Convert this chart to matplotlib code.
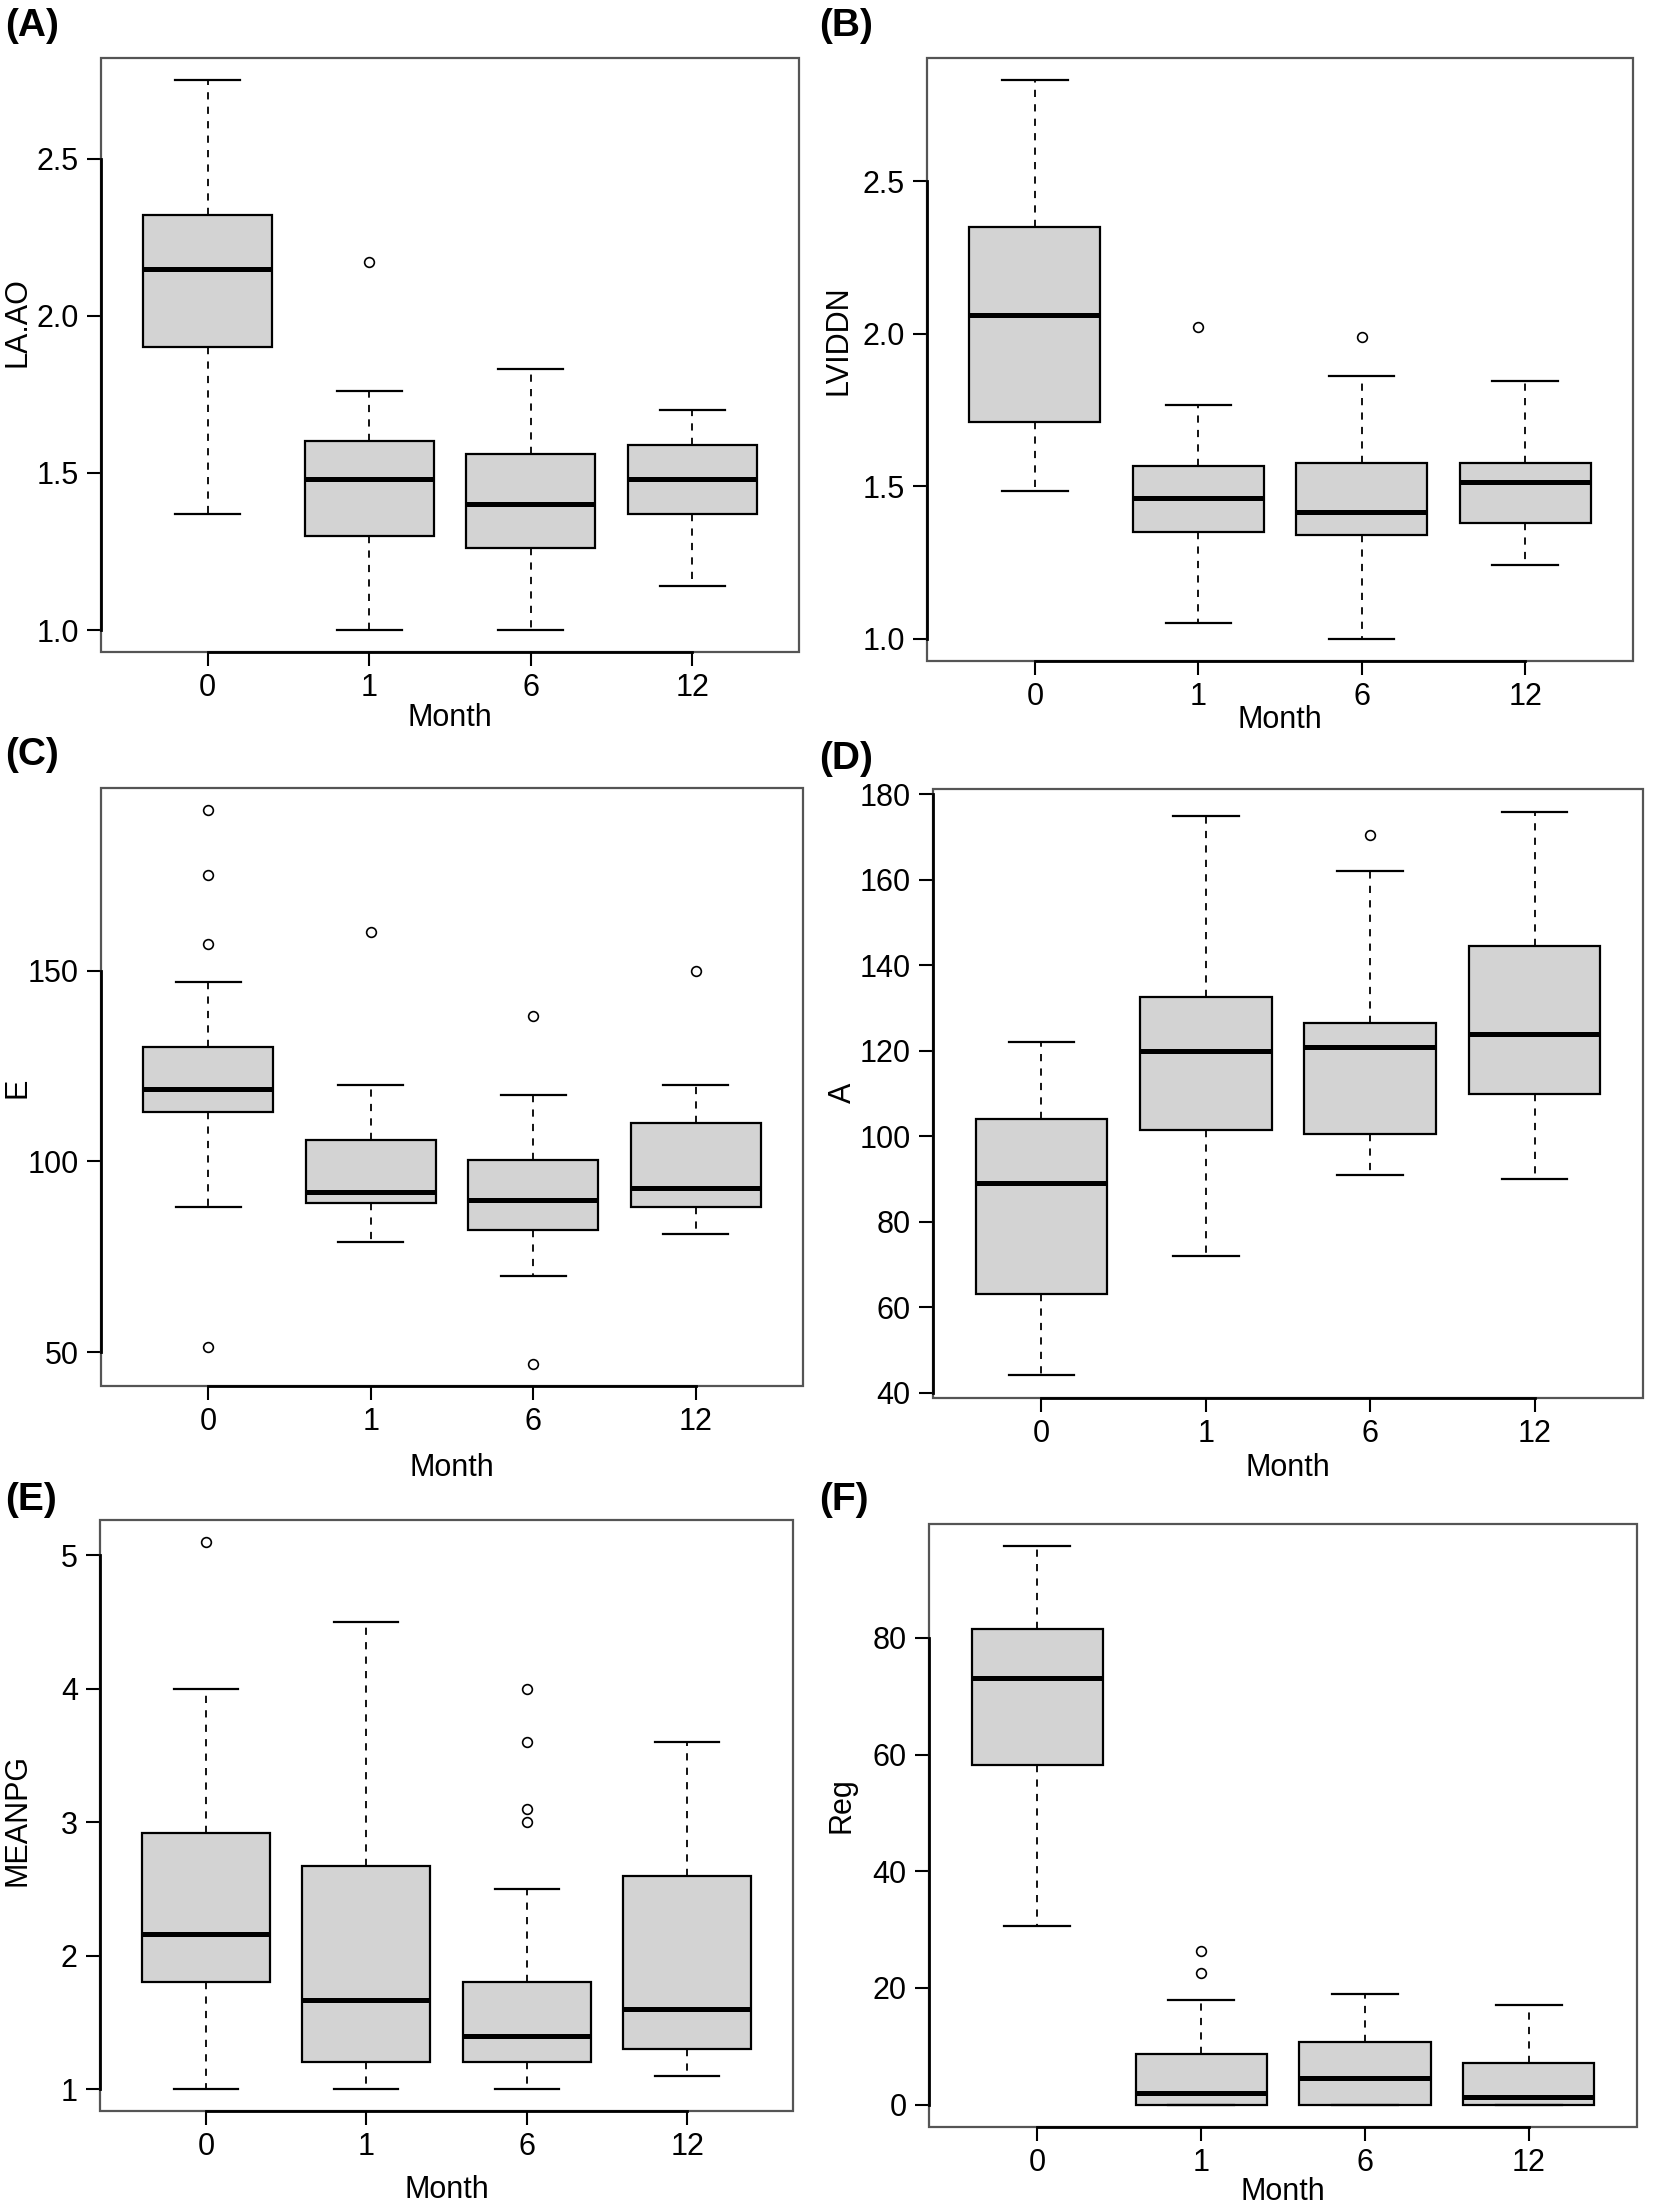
import matplotlib
matplotlib.use('Agg')
import matplotlib.pyplot as plt
from matplotlib.patches import Rectangle

plt.rcParams['font.family'] = ['Liberation Sans', 'DejaVu Sans']

W, H = 1654, 2208
months = ['0', '1', '6', '12']

# values: lower whisker, Q1, median, Q3, upper whisker, outliers
# (A) LA.AO
la_lo = [1.37, 1.00, 1.00, 1.14]
la_q1 = [1.90, 1.30, 1.26, 1.37]
la_med = [2.15, 1.48, 1.40, 1.48]
la_q3 = [2.32, 1.60, 1.56, 1.59]
la_hi = [2.75, 1.76, 1.83, 1.70]
la_out = [[], [2.17], [], []]

# (B) LVIDDN
lv_lo = [1.485, 1.05, 1.00, 1.24]
lv_q1 = [1.71, 1.35, 1.34, 1.38]
lv_med = [2.06, 1.46, 1.415, 1.515]
lv_q3 = [2.35, 1.565, 1.575, 1.575]
lv_hi = [2.83, 1.765, 1.86, 1.845]
lv_out = [[], [2.02], [1.99], []]

# (C) E
e_lo = [88, 79, 70, 81]
e_q1 = [113, 89, 82, 88]
e_med = [119, 92, 90, 93]
e_q3 = [130, 105.5, 100.5, 110]
e_hi = [147, 120, 117.5, 120]
e_out = [[192, 175, 157, 51.5], [160], [138, 47], [150]]

# (D) A
a_lo = [44, 72, 91, 90]
a_q1 = [63, 101.5, 100.5, 110]
a_med = [89, 120, 121, 124]
a_q3 = [104, 132.7, 126.6, 144.6]
a_hi = [122, 175, 162, 176]
a_out = [[], [], [170.5], []]

# (E) MEANPG
m_lo = [1.0, 1.0, 1.0, 1.1]
m_q1 = [1.8, 1.2, 1.2, 1.3]
m_med = [2.16, 1.67, 1.4, 1.6]
m_q3 = [2.92, 2.67, 1.8, 2.6]
m_hi = [4.0, 4.5, 2.5, 3.6]
m_out = [[5.1], [], [4.0, 3.6, 3.1, 3.0], []]

# (F) Reg
r_lo = [30.7, 0, 0, 0]
r_q1 = [58.2, 0, 0, 0]
r_med = [73.1, 2.0, 4.6, 1.3]
r_q3 = [81.5, 8.7, 10.8, 7.2]
r_hi = [95.7, 17.9, 19.0, 17.0]
r_out = [[], [26.3, 22.6], [], []]

la_ticks = [1.0, 1.5, 2.0, 2.5]
lv_ticks = [1.0, 1.5, 2.0, 2.5]
e_ticks = [50, 100, 150]
a_ticks = [40, 60, 80, 100, 120, 140, 160, 180]
m_ticks = [1, 2, 3, 4, 5]
r_ticks = [0, 20, 40, 60, 80]

panels = [
    ('(A)', 'LA.AO', (la_lo, la_q1, la_med, la_q3, la_hi, la_out), la_ticks, '%.1f'),
    ('(B)', 'LVIDDN', (lv_lo, lv_q1, lv_med, lv_q3, lv_hi, lv_out), lv_ticks, '%.1f'),
    ('(C)', 'E', (e_lo, e_q1, e_med, e_q3, e_hi, e_out), e_ticks, '%d'),
    ('(D)', 'A', (a_lo, a_q1, a_med, a_q3, a_hi, a_out), a_ticks, '%d'),
    ('(E)', 'MEANPG', (m_lo, m_q1, m_med, m_q3, m_hi, m_out), m_ticks, '%d'),
    ('(F)', 'Reg', (r_lo, r_q1, r_med, r_q3, r_hi, r_out), r_ticks, '%d'),
]

# pixel boxes of each plot region: left, right, top, bottom
boxes = [
    (101, 799, 58, 652), (927, 1633, 58, 661),
    (101, 803, 788, 1386), (933, 1643, 789, 1398),
    (100, 793, 1520, 2111), (929, 1637, 1524, 2127),
]
# panel letter x, y; y label x, y; month label y
label_pos = [
    (5, 26, 18, 322, 718), (819, 26, 838, 340, 720),
    (5, 755, 18, 1088, 1468), (819, 759, 843, 1093, 1468),
    (5, 1500, 18, 1820, 2190), (819, 1500, 842, 1805, 2192),
]

fig = plt.figure(figsize=(W / 100, H / 100), dpi=100)

for (letter, ylab, data, yt, fmt), (l, r, t, b), (lx, ly, yx, yy, my) in zip(panels, boxes, label_pos):
    ax = fig.add_axes([l / W, 1 - b / H, (r - l) / W, (b - t) / H])
    lo, q1, med, q3, hi, out = data
    stats = [dict(whislo=lo[i], q1=q1[i], med=med[i], q3=q3[i], whishi=hi[i], fliers=out[i])
             for i in range(len(months))]
    pos = list(range(1, len(months) + 1))
    ax.bxp(stats, positions=pos, widths=0.8, capwidths=0.4, patch_artist=True,
           boxprops=dict(facecolor='#d3d3d3', edgecolor='black', linewidth=1.6),
           medianprops=dict(color='black', linewidth=3.6, solid_capstyle='butt'),
           whiskerprops=dict(color='black', linewidth=1.3, linestyle=(0, (4, 4))),
           capprops=dict(color='black', linewidth=1.6),
           flierprops=dict(marker='o', markerfacecolor='none', markeredgecolor='black',
                           markersize=7, markeredgewidth=1.2))

    allv = lo + hi + [v for o in out for v in o]
    vmin, vmax = min(allv), max(allv)
    pad = 0.04 * (vmax - vmin)
    ax.set_ylim(vmin - pad, vmax + pad)
    ax.set_xlim(0.5 - 0.04 * len(months), len(months) + 0.5 + 0.04 * len(months))

    ax.set_xticks(pos)
    ax.set_xticklabels(months)
    ax.set_yticks(yt)
    ax.set_yticklabels([fmt % v for v in yt])
    ax.tick_params(direction='out', length=10, width=1.5, color='black', labelsize=22)
    ax.tick_params(axis='x', pad=5)
    ax.tick_params(axis='y', pad=6)

    for s in ['top', 'right']:
        ax.spines[s].set_visible(False)
    ax.spines['left'].set_bounds(yt[0], yt[-1])
    ax.spines['bottom'].set_bounds(pos[0], pos[-1])
    for s in ['left', 'bottom']:
        ax.spines[s].set_linewidth(2.0)
        ax.spines[s].set_zorder(4)
    ax.add_patch(Rectangle((0, 0), 1, 1, transform=ax.transAxes, fill=False,
                           edgecolor='#555555', linewidth=1.6, zorder=3, clip_on=False))

    fig.text(lx / W, 1 - ly / H, letter, ha='left', va='center', fontsize=28, fontweight='bold')
    fig.text(yx / W, 1 - yy / H, ylab, ha='center', va='center', rotation=90, fontsize=22)
    fig.text((l + r) / 2 / W, 1 - my / H, 'Month', ha='center', va='center', fontsize=22)

fig.savefig('out.png', dpi=100)
